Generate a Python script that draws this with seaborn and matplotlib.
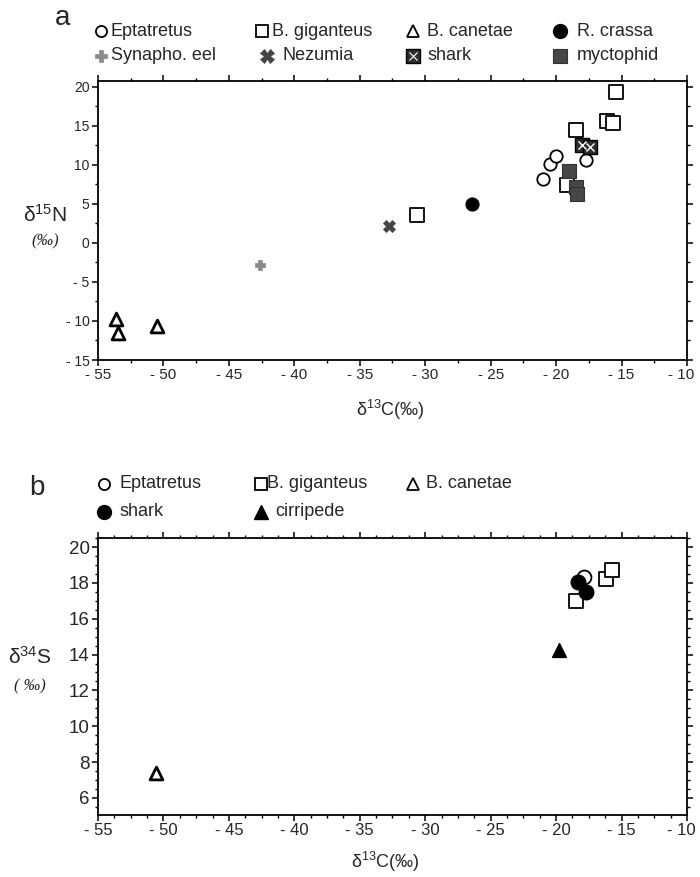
import numpy as np
import pandas as pd
import matplotlib
matplotlib.use("Agg")
import matplotlib.pyplot as plt
import seaborn as sns
from matplotlib.lines import Line2D
from matplotlib.ticker import MultipleLocator, FuncFormatter
from matplotlib.transforms import ScaledTranslation

# panel a: d13C vs d15N
ept_c = [-21.0, -20.5, -20.0, -17.7]
ept_n = [8.2, 10.1, 11.1, 10.6]
gig_c = [-15.4, -16.1, -15.65, -18.5, -19.2, -30.6]
gig_n = [19.3, 15.6, 15.3, 14.4, 7.4, 3.5]
can_c = [-53.6, -53.45, -50.5]
can_n = [-9.7, -11.6, -10.7]
cra_c = [-26.4]
cra_n = [5.0]
eel_c = [-42.6]
eel_n = [-2.9]
nez_c = [-32.8]
nez_n = [2.2]
shark_c = [-18.0, -17.4]
shark_n = [12.5, 12.3]
myc_c = [-19.0, -18.5, -18.4]
myc_n = [9.2, 7.2, 6.2]

# panel b: d13C vs d34S
b_ept_c = [-17.9]
b_ept_s = [18.3]
b_gig_c = [-18.5, -16.2, -15.75]
b_gig_s = [17.0, 18.2, 18.7]
b_can_c = [-50.55]
b_can_s = [7.4]
b_shark_c = [-18.3, -17.7]
b_shark_s = [18.05, 17.5]
b_cir_c = [-19.8]
b_cir_s = [14.25]

x_ticks = list(range(-55, -9, 5))

sns.set_style("ticks")
plt.rcParams["font.family"] = ["Liberation Sans", "DejaVu Sans"]
plt.rcParams["mathtext.default"] = "regular"

styles = {
    "open_circle": dict(marker="o", facecolor="white", edgecolor="black", linewidth=1.3),
    "open_square": dict(marker="s", facecolor="white", edgecolor="black", linewidth=1.3),
    "open_tri": dict(marker="^", facecolor="white", edgecolor="black", linewidth=2.0),
    "black_circle": dict(marker="o", facecolor="black", edgecolor="black", linewidth=1.0),
    "black_tri": dict(marker="^", facecolor="black", edgecolor="black", linewidth=1.0),
    "plus": dict(marker="P", facecolor="#8a8a8a", edgecolor="#8a8a8a", linewidth=0.5),
    "cross": dict(marker="X", facecolor="#444444", edgecolor="#444444", linewidth=0.5),
    "shark_sq": dict(marker="s", facecolor="#2e2e2e", edgecolor="black", linewidth=1.0),
    "myc_sq": dict(marker="s", facecolor="#474747", edgecolor="#333333", linewidth=0.8),
}


def dots(ax, x, y, key, s):
    sns.scatterplot(x=x, y=y, ax=ax, s=s, zorder=3, legend=False, **styles[key])
    if key == "shark_sq":
        sns.scatterplot(x=x, y=y, ax=ax, s=s * 0.35, marker="x", color="white",
                        linewidth=1.0, zorder=4, legend=False)


def neg_fmt(v, p):
    return f"- {abs(v):g}" if v < 0 else f"{v:g}"


def legend_mark(fig, xpx, ypx, key, ms):
    st = styles[key]
    fig.add_artist(Line2D([xpx / 700], [1 - ypx / 877], transform=fig.transFigure,
                          marker=st["marker"], markersize=ms, markerfacecolor=st["facecolor"],
                          markeredgecolor=st["edgecolor"],
                          markeredgewidth=min(st["linewidth"], 1.3), linestyle="none"))
    if key == "shark_sq":
        fig.add_artist(Line2D([xpx / 700], [1 - ypx / 877], transform=fig.transFigure,
                              marker="x", markersize=ms * 0.55, markeredgecolor="white",
                              markeredgewidth=0.8, linestyle="none"))


fig = plt.figure(figsize=(7, 8.77), dpi=100)
ax1 = fig.add_axes([0.14, 0.5895, 0.8414, 0.3181])
ax2 = fig.add_axes([0.14, 0.0707, 0.8414, 0.3158])

# panel a
dots(ax1, ept_c, ept_n, "open_circle", 80)
dots(ax1, gig_c, gig_n, "open_square", 95)
dots(ax1, can_c, can_n, "open_tri", 85)
dots(ax1, cra_c, cra_n, "black_circle", 85)
dots(ax1, eel_c, eel_n, "plus", 55)
dots(ax1, nez_c, nez_n, "cross", 75)
dots(ax1, myc_c, myc_n, "myc_sq", 95)
dots(ax1, shark_c, shark_n, "shark_sq", 95)

ax1.set_xlim(-55, -10)
ax1.set_ylim(-15, 20.7)
ax1.yaxis.set_major_locator(MultipleLocator(5))
ax1.yaxis.set_minor_locator(MultipleLocator(2.5))
ax1.xaxis.set_minor_locator(MultipleLocator(2.5))

# panel b
dots(ax2, b_ept_c, b_ept_s, "open_circle", 100)
dots(ax2, b_gig_c, b_gig_s, "open_square", 115)
dots(ax2, b_can_c, b_can_s, "open_tri", 85)
dots(ax2, b_shark_c, b_shark_s, "black_circle", 110)
dots(ax2, b_cir_c, b_cir_s, "black_tri", 100)

ax2.set_xlim(-55, -10)
ax2.set_ylim(5.05, 20.5)
ax2.xaxis.set_minor_locator(MultipleLocator(1.25))
ax2.yaxis.set_major_locator(MultipleLocator(2))
ax2.yaxis.set_minor_locator(MultipleLocator(0.5))

for ax in (ax1, ax2):
    ax.set_xticks(x_ticks)
    ax.set_xlim(-55, -10)
    ax.xaxis.set_major_formatter(FuncFormatter(neg_fmt))
    ax.yaxis.set_major_formatter(FuncFormatter(neg_fmt))
    ax.tick_params(which="both", direction="out", top=True, right=True,
                   labeltop=False, labelright=False, color="black", pad=2)
    ax.tick_params(which="major", length=4, width=1.1)
    ax.tick_params(which="minor", length=2.5, width=1.0)
    for sp in ax.spines.values():
        sp.set_visible(True)
        sp.set_linewidth(1.3)
        sp.set_color("black")
    ax.set_xlabel("")
    ax.set_ylabel("")

ax1.tick_params(axis="x", labelsize=11)
ax1.tick_params(axis="y", labelsize=10)
ax2.tick_params(axis="x", labelsize=12)
ax2.tick_params(axis="y", labelsize=13.5)

# nudge the right-most x label of both panels so it stays inside the picture
for ax in (ax1, ax2):
    last = ax.xaxis.get_major_ticks()[-1].label1
    last.set_transform(last.get_transform() + ScaledTranslation(-4 / 72, 0, fig.dpi_scale_trans))

# axis labels
fig.text(390 / 700, 1 - 410 / 877, "δ$^{13}$C(‰)", ha="center", va="center", fontsize=13)
fig.text(385 / 700, 1 - 862 / 877, "δ$^{13}$C(‰)", ha="center", va="center", fontsize=13)
fig.text(45 / 700, 1 - 215 / 877, "δ$^{15}$N", ha="center", va="center", fontsize=15)
fig.text(45 / 700, 1 - 241 / 877, "(‰)", ha="center", va="center", fontsize=12,
         family="Liberation Serif", style="italic")
fig.text(30 / 700, 1 - 657 / 877, "δ$^{34}$S", ha="center", va="center", fontsize=15)
fig.text(30 / 700, 1 - 686 / 877, "( ‰)", ha="center", va="center", fontsize=12,
         family="Liberation Serif", style="italic")

# panel letters
fig.text(63 / 700, 1 - 18 / 877, "a", ha="center", va="center", fontsize=20)
fig.text(37 / 700, 1 - 488 / 877, "b", ha="center", va="center", fontsize=20)

# legends
leg_a = [("Eptatretus", "open_circle"), ("B. giganteus", "open_square"),
         ("B. canetae", "open_tri"), ("R. crassa", "black_circle"),
         ("Synapho. eel", "plus"), ("Nezumia", "cross"),
         ("shark", "shark_sq"), ("myctophid", "myc_sq")]
cols_a = [(101, 111), (262, 272), (413, 427), (560, 577)]
rows_a = [31, 56]
for i, (lab, key) in enumerate(leg_a):
    mx, tx = cols_a[i % 4]
    y = rows_a[i // 4]
    if key == "cross":
        mx, tx = mx + 5, tx + 10
    legend_mark(fig, mx, y, key, 8 if key not in ("black_circle", "shark_sq", "myc_sq", "cross") else 10)
    fig.text(tx / 700, 1 - y / 877, lab, ha="left", va="center", fontsize=13)

leg_b = [("Eptatretus", "open_circle"), ("B. giganteus", "open_square"),
         ("B. canetae", "open_tri"), ("shark", "black_circle"), ("cirripede", "black_tri")]
cols_b = [(104, 119), (261, 267), (413, 426)]
rows_b = [484, 512]
for i, (lab, key) in enumerate(leg_b):
    mx, tx = cols_b[i % 3]
    y = rows_b[i // 3]
    if key == "black_tri":
        tx += 8
    legend_mark(fig, mx, y, key, 8 if key not in ("black_circle", "black_tri") else 10)
    fig.text(tx / 700, 1 - y / 877, lab, ha="left", va="center", fontsize=13)

fig.savefig("out.png", dpi=100)
